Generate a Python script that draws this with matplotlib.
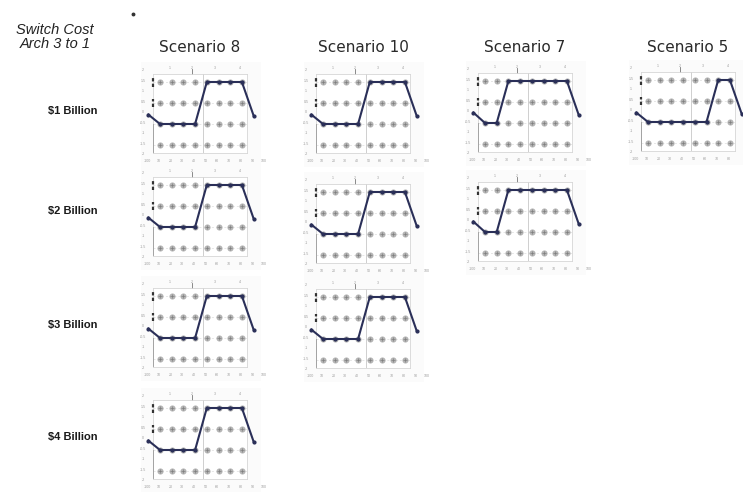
import numpy as np
import matplotlib
matplotlib.use('Agg')
from matplotlib import pyplot as plt
from matplotlib.lines import Line2D

plt.rcParams['font.family'] = ['Liberation Sans', 'DejaVu Sans']

# column titles and row labels
scenarios = ['Scenario 8', 'Scenario 10', 'Scenario 7', 'Scenario 5']
costs = ['\\$1 Billion', '\\$2 Billion', '\\$3 Billion', '\\$4 Billion']
# how many scenarios are shown for each switch cost
n_panels = [4, 3, 2, 1]

# decision path per scenario, stage 0..9
stage = np.arange(10)
path_s8 = [2.45, 2, 2, 2, 2, 4, 4, 4, 4, 2.4]
path_s10 = [2.45, 2, 2, 2, 2, 4, 4, 4, 4, 2.4]
path_s7 = [2.5, 2, 2, 4, 4, 4, 4, 4, 4, 2.4]
path_s5 = [2.45, 2, 2, 2, 2, 2, 2, 4, 4, 2.4]
paths = [path_s8, path_s10, path_s7, path_s5]

# option grid drawn behind each path
grid_x = np.arange(1, 9)
grid_y = np.arange(1, 5)

bottom_ticks = ['-100', '10', '20', '30', '40', '50', '60', '70', '80', '90', '100']
left_ticks = ['2', '1.5', '1', '0.5', '0', '-0.5', '-1', '-1.5', '-2']
top_ticks = ['1', '2', '3', '4']

W, H = 743, 492
fig = plt.figure(figsize=(W / 100, H / 100), dpi=100)

# pixel scale of one stage / one level inside a panel
px_x, px_y = 11.7, 21.0
x0, x1 = 0.4, 8.45
y0, y1 = 0.6, 4.4

# pixel position of (stage 1, level 4) for each panel
col_px = [[160, 323, 485, 648], [160, 323, 485], [160, 323], [160]]
row_px = [[82, 82, 81, 80], [185, 192, 190], [296, 297], [408]]


def add_panel(cx, cy, path):
    left = cx - (1 - x0) * px_x
    top = cy - (y1 - 4) * px_y
    w = (x1 - x0) * px_x
    h = (y1 - y0) * px_y
    # pale backdrop around the panel
    bg = fig.add_axes([(left - 12) / W, 1 - (top + h + 14) / H, (w + 26) / W, (h + 26) / H])
    bg.set_facecolor('#fbfbfb')
    bg.set_xticks([]); bg.set_yticks([])
    for s in bg.spines.values():
        s.set_visible(False)
    bg.set_zorder(0)

    ax = fig.add_axes([left / W, 1 - (top + h) / H, w / W, h / H])
    ax.set_zorder(1)
    ax.set_xlim(x0, x1)
    ax.set_ylim(y0, y1)
    ax.set_facecolor('white')
    ax.set_xticks([]); ax.set_yticks([])
    for s in ax.spines.values():
        s.set_color('#d6d6d6')
        s.set_linewidth(0.6)

    for gy in grid_y:
        ax.plot([x0, x1], [gy, gy], color='#dddddd', lw=0.5, ls=(0, (3, 3)), zorder=1)
    ax.axvline(4.7, color='#c8c8c8', lw=0.6, zorder=1)
    gx, gy = np.meshgrid(grid_x, grid_y)
    ax.plot(gx.ravel(), gy.ravel(), 'o', ms=4.4, color='#b4b4b4', mec='none', zorder=2)
    ax.plot(gx.ravel(), gy.ravel(), '+', ms=3, color='#7f7f7f', mew=0.5, zorder=2)

    # dark marks along the left edge
    ax.plot([0.42, 0.42], [3.75, 4.2], color='#333333', lw=1.6, ls=(0, (1.5, 1)), clip_on=False, zorder=3)
    ax.plot([0.42, 0.42], [2.8, 3.2], color='#333333', lw=1.6, ls=(0, (1.5, 1)), clip_on=False, zorder=3)
    ax.plot([0.42, 0.42], [0.65, 2.0], color='#9a9a9a', lw=0.6, clip_on=False, zorder=3)

    ax.plot(stage, path, '-o', color='#2a2f58', lw=1.5, ms=2.0, clip_on=False, zorder=4)

    # tiny tick labels, dropped where they would run off the figure
    for i, t in enumerate(bottom_ticks):
        px = left + (i - 0.1 - x0) * px_x
        if px + 6 > W:
            continue
        ax.text(i - 0.1, 0.22, t, fontsize=2.6, color='#9c9c9c', ha='center', va='center', clip_on=False)
    for i, t in enumerate(left_ticks):
        ax.text(-0.45, 4.55 - i * 0.5, t, fontsize=2.6, color='#9c9c9c', ha='center', va='center', clip_on=False)
    for xt, t in zip([1.8, 3.7, 5.7, 7.8], top_ticks):
        ax.text(xt, 4.65, t, fontsize=2.6, color='#9c9c9c', ha='center', va='center', clip_on=False)
    ax.plot([3.7, 3.7], [4.4, 4.6], color='#777777', lw=0.6, clip_on=False)
    return ax


for r in range(len(costs)):
    for c in range(n_panels[r]):
        add_panel(col_px[r][c], row_px[r][c], paths[c])

# column titles
for c, name in enumerate(scenarios):
    cx = col_px[0][c] - (1 - x0) * px_x + (x1 - x0) * px_x / 2
    fig.text(cx / W, 1 - 48 / H, name, fontsize=11, family='DejaVu Sans', color='#2a2a2a',
             ha='center', va='center')

# row labels
row_label_y = [111, 211, 325, 437]
for lab, ry in zip(costs, row_label_y):
    fig.text(73 / W, 1 - ry / H, lab, fontsize=8, fontweight='bold', color='#1a1a1a',
             ha='center', va='center')

fig.text(55 / W, 1 - 30 / H, 'Switch Cost', fontsize=10.5, style='italic', color='#222222',
         ha='center', va='center')
fig.text(55 / W, 1 - 44 / H, 'Arch 3 to 1', fontsize=10.5, style='italic', color='#222222',
         ha='center', va='center')
fig.add_artist(Line2D([133 / W], [1 - 14 / H], marker='o', ms=1.8, color='#333333', ls='none'))

fig.savefig('out.png', dpi=100, facecolor='white')
